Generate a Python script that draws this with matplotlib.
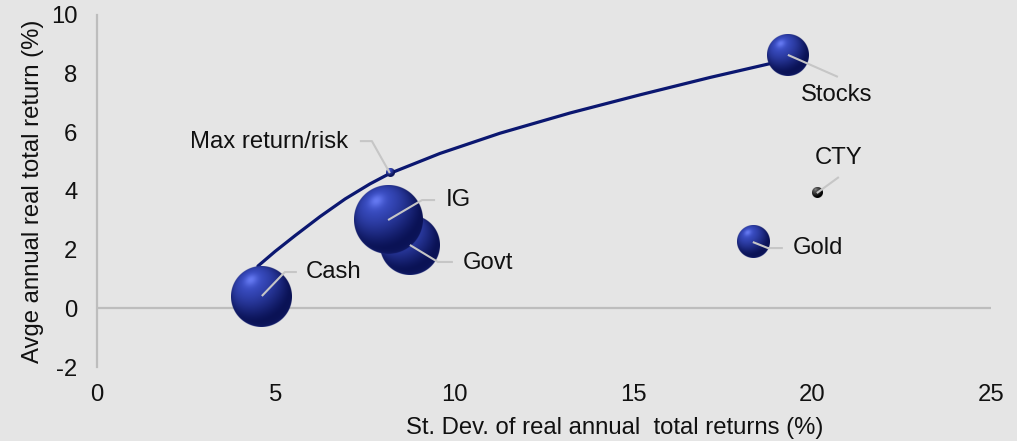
import numpy as np
import matplotlib
matplotlib.use("Agg")
import matplotlib.pyplot as plt
from matplotlib.transforms import IdentityTransform

# ---- data -------------------------------------------------------------
assets = ["Cash", "Govt", "IG", "Stocks", "Gold"]
risk = [4.61, 8.75, 8.14, 19.32, 18.34]          # st. dev. of real returns (%)
ret = [0.42, 2.16, 3.01, 8.64, 2.26]             # avg real return (%)
bubble_size = [9.3, 9.0, 11.6, 4.4, 2.6]         # relative bubble area

cty_risk, cty_ret = 20.13, 3.93
maxrr_risk, maxrr_ret = 8.19, 4.61

frontier_risk = [4.50, 4.98, 5.54, 6.24, 6.94, 7.63, 8.19,
                 9.59, 11.27, 13.23, 15.19, 17.14, 19.38]
frontier_ret = [1.44, 1.94, 2.48, 3.13, 3.73, 4.24, 4.60,
                5.28, 5.97, 6.66, 7.28, 7.87, 8.50]

xticks = [0, 5, 10, 15, 20, 25]
yticks = [-2, 0, 2, 4, 6, 8, 10]

# ---- style --------------------------------------------------------------
BG = "#e5e5e5"
AXIS = "#bdbdbd"
LEADER = "#c6c6c6"
TEXT = "#111111"
NAVY = "#0b1770"
FS = 17.2

plt.rcParams["font.family"] = ["Liberation Sans", "DejaVu Sans"]
plt.rcParams["axes.unicode_minus"] = False

DPI = 100
fig = plt.figure(figsize=(10.17, 4.41), dpi=DPI, facecolor=BG)
ax = fig.add_axes([97 / 1017, 1 - 367 / 441, (991 - 97) / 1017, (367 - 15) / 441])
ax.set_facecolor(BG)
ax.set_xlim(0, 25)
ax.set_ylim(-2, 10)

for s in ["top", "right", "bottom"]:
    ax.spines[s].set_visible(False)
ax.spines["left"].set_color(AXIS)
ax.spines["left"].set_linewidth(1.6)
ax.axhline(0, color=AXIS, lw=1.6, zorder=1)

ax.set_xticks(xticks)
ax.set_yticks(yticks)
ax.tick_params(length=0, labelsize=FS, colors=TEXT)
ax.tick_params(axis="x", pad=12)
ax.tick_params(axis="y", pad=14)
ax.set_xlabel("St. Dev. of real annual  total returns (%)", fontsize=FS,
              color=TEXT, va="center")
ax.xaxis.set_label_coords(0.579, -0.173)
ax.set_ylabel("Avge annual real total return (%)", fontsize=FS, color=TEXT,
              labelpad=5)

# efficient frontier
ax.plot(frontier_risk, frontier_ret, color=NAVY, lw=2.3, zorder=2,
        solid_capstyle="round", solid_joinstyle="round")


def sphere_image(n, dark, light):
    """RGBA image of a lit sphere with an anti-aliased circular edge."""
    yy, xx = np.mgrid[0:n, 0:n]
    u = (xx + 0.5) / n * 2 - 1
    v = 1 - (yy + 0.5) / n * 2
    r = np.sqrt(u ** 2 + v ** 2)
    z = np.sqrt(np.clip(1 - r ** 2, 0, 1))
    L = np.array([-0.35, 0.55, 0.76])
    L = L / np.linalg.norm(L)
    diff = np.clip(u * L[0] + v * L[1] + z * L[2], 0, 1)
    spec = np.clip(diff, 0, 1) ** 40 * 0.16
    rim = np.clip(-v, 0, 1) * (1 - z) ** 4 * 0.35
    dark = np.array(dark) / 255.0
    light = np.array(light) / 255.0
    shade = diff ** 1.6
    rgb = dark + (light - dark) * shade[..., None]
    rgb = rgb + spec[..., None] + rim[..., None] * (light - dark)
    rgb = np.clip(rgb, 0, 1)
    alpha = np.clip((1 - r) * n / 2 + 0.5, 0, 1)
    return np.dstack([rgb, alpha])


def draw_sphere(x, y, r_px, dark, light, z):
    cx, cy = ax.transData.transform((x, y))
    inv = ax.transData.inverted()
    (x0, y0), (x1, y1) = inv.transform([(cx - r_px, cy - r_px),
                                        (cx + r_px, cy + r_px)])
    img = sphere_image(int(r_px * 8), dark, light)
    ax.imshow(img, extent=(x0, x1, y0, y1), origin="upper", aspect="auto",
              interpolation="antialiased", zorder=z)


BLUE_DARK = (10, 18, 85)
BLUE_LIGHT = (60, 80, 200)
for i, (x, y, s) in enumerate(zip(risk, ret, bubble_size)):
    draw_sphere(x, y, 10.0 * np.sqrt(s), BLUE_DARK, BLUE_LIGHT, 3 + i)

draw_sphere(maxrr_risk, maxrr_ret, 4.2, BLUE_DARK, BLUE_LIGHT, 9)
draw_sphere(cty_risk, cty_ret, 5.3, (0, 0, 0), (95, 95, 95), 9)

ax.set_xlim(0, 25)
ax.set_ylim(-2, 10)

# ---- labels with leader lines (offsets in pixels from each marker) ------
labels = {
    "Cash": ((risk[0], ret[0]), [(0, 0), (23, 24), (35, 24)], (44, 24), "left"),
    "IG": ((risk[2], ret[2]), [(0, 0), (34, 20), (47, 20)], (58, 20), "left"),
    "Govt": ((risk[1], ret[1]), [(0, 0), (28, -17), (43, -17)], (53, -18), "left"),
    "Stocks": ((risk[3], ret[3]), [(0, 0), (50, -22)], (13, -40), "left"),
    "Gold": ((risk[4], ret[4]), [(0, 0), (15, -6), (30, -6)], (40, -6), "left"),
    "CTY": ((cty_risk, cty_ret), [(0, 0), (22, 16)], (-2, 35), "left"),
    "Max return/risk": ((maxrr_risk, maxrr_ret),
                        [(0, 0), (-18, 32), (-30, 32)], (-42, 31), "right"),
}

for text, (pt, path, toff, ha) in labels.items():
    cx, cy = ax.transData.transform(pt)
    xs = [cx + dx for dx, dy in path]
    ys = [cy + dy for dx, dy in path]
    ax.plot(xs, ys, transform=IdentityTransform(), color=LEADER, lw=1.5,
            zorder=20, solid_capstyle="butt")
    ax.annotate(text, xy=pt, xytext=(toff[0] * 72 / DPI, toff[1] * 72 / DPI),
                textcoords="offset points", ha=ha, va="center",
                fontsize=FS, color=TEXT, zorder=21)

fig.savefig("out.png", dpi=DPI, facecolor=BG)
